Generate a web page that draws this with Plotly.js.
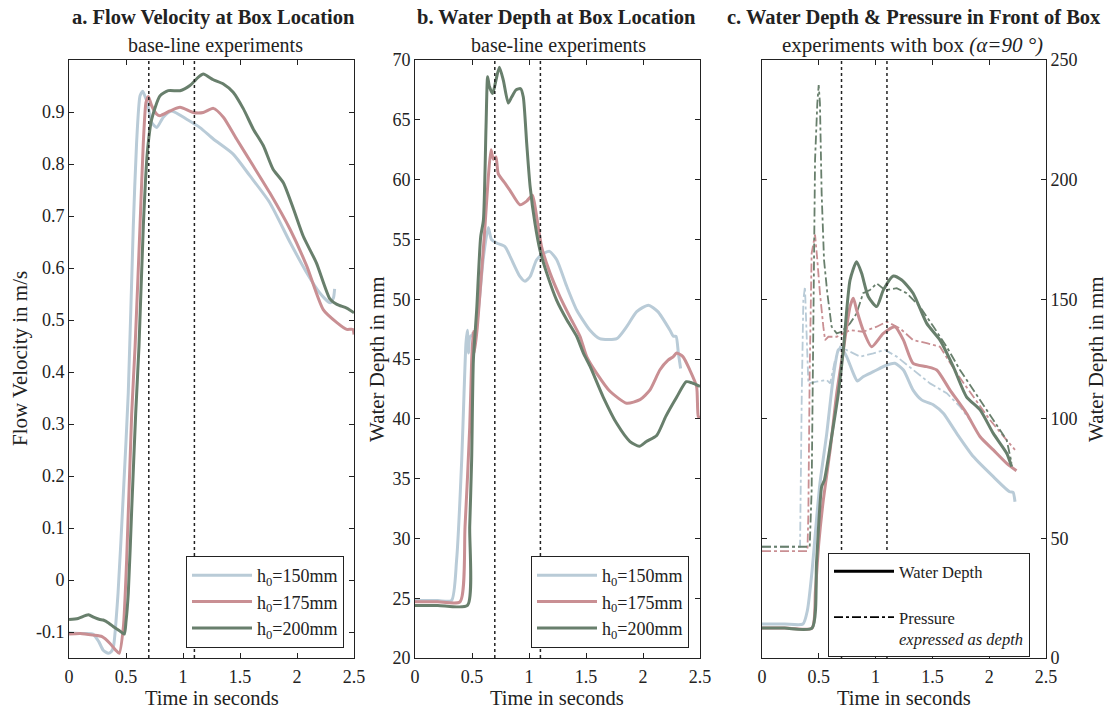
<!DOCTYPE html>
<html>
<head>
<meta charset="utf-8">
<script src="https://cdn.plot.ly/plotly-3.0.1.min.js"></script>
<style>html,body{margin:0;padding:0;background:#fff;}#chart{width:1107px;height:710px;}</style>
</head>
<body>
<div id="chart"></div>
<script>
// ---------- DATA ----------
const seriesNames = ["h<sub>0</sub>=150mm", "h<sub>0</sub>=175mm", "h<sub>0</sub>=200mm"];
const xTickVals = [0, 0.5, 1, 1.5, 2, 2.5];
const xTickText = ["0", "0.5", "1", "1.5", "2", "2.5"];
const velTickVals = [-0.1, 0, 0.1, 0.2, 0.3, 0.4, 0.5, 0.6, 0.7, 0.8, 0.9];
const velTickText = ["-0.1", "0", "0.1", "0.2", "0.3", "0.4", "0.5", "0.6", "0.7", "0.8", "0.9"];
const markerTimes = [0.7, 1.1];

// a. Flow velocity (m/s)
const tVel150 = [0, 0.1, 0.21, 0.26, 0.30, 0.345, 0.37, 0.39, 0.43, 0.477, 0.52, 0.564, 0.593, 0.623, 0.646, 0.667, 0.687, 0.725, 0.769, 0.827, 0.90, 1.032, 1.149, 1.266, 1.44, 1.588, 1.76, 1.94, 2.085, 2.20, 2.29, 2.32, 2.33];
const vel150 = [-0.102, -0.103, -0.104, -0.118, -0.135, -0.141, -0.138, -0.128, -0.026, 0.167, 0.36, 0.681, 0.841, 0.931, 0.940, 0.930, 0.918, 0.880, 0.870, 0.890, 0.902, 0.886, 0.870, 0.848, 0.819, 0.777, 0.726, 0.649, 0.591, 0.552, 0.533, 0.543, 0.56];
const tVel175 = [0, 0.1, 0.21, 0.29, 0.36, 0.41, 0.44, 0.477, 0.506, 0.55, 0.58, 0.623, 0.652, 0.675, 0.696, 0.725, 0.769, 0.798, 0.886, 0.974, 1.09, 1.178, 1.266, 1.354, 1.47, 1.617, 1.76, 1.94, 2.085, 2.23, 2.35, 2.436, 2.49, 2.5];
const vel175 = [-0.104, -0.103, -0.106, -0.109, -0.122, -0.135, -0.141, -0.09, 0.04, 0.32, 0.45, 0.681, 0.841, 0.918, 0.930, 0.912, 0.896, 0.893, 0.902, 0.909, 0.899, 0.899, 0.907, 0.890, 0.848, 0.796, 0.745, 0.674, 0.604, 0.520, 0.495, 0.482, 0.482, 0.472];
const tVel200 = [0, 0.08, 0.17, 0.22, 0.27, 0.30, 0.35, 0.39, 0.44, 0.485, 0.50, 0.52, 0.55, 0.585, 0.614, 0.652, 0.687, 0.725, 0.798, 0.871, 0.974, 1.061, 1.135, 1.178, 1.266, 1.354, 1.44, 1.53, 1.617, 1.705, 1.79, 1.88, 1.97, 2.055, 2.17, 2.29, 2.35, 2.436, 2.5];
const vel200 = [-0.076, -0.074, -0.067, -0.072, -0.076, -0.077, -0.083, -0.09, -0.097, -0.104, -0.08, -0.026, 0.135, 0.32, 0.45, 0.681, 0.822, 0.886, 0.931, 0.941, 0.941, 0.951, 0.967, 0.973, 0.962, 0.954, 0.938, 0.906, 0.867, 0.835, 0.790, 0.764, 0.713, 0.661, 0.610, 0.540, 0.530, 0.523, 0.514];

// b. Water depth at box location (mm)
const tDep150 = [0, 0.2, 0.32, 0.365, 0.41, 0.43, 0.447, 0.459, 0.47, 0.48, 0.50, 0.53, 0.56, 0.60, 0.643, 0.67, 0.716, 0.789, 0.833, 0.92, 0.965, 1.01, 1.067, 1.125, 1.18, 1.243, 1.33, 1.418, 1.535, 1.62, 1.77, 1.857, 1.945, 2.047, 2.13, 2.237, 2.266, 2.29, 2.31, 2.33];
const dep150 = [24.8, 24.8, 24.8, 28.2, 36.6, 42.1, 46.3, 47.4, 45.5, 46.8, 47.0, 47.3, 49.5, 53.5, 56.0, 55.0, 54.7, 54.4, 53.6, 51.9, 51.5, 51.9, 53.3, 53.8, 54.0, 53.3, 51.1, 49.1, 47.4, 46.7, 46.7, 47.7, 48.96, 49.5, 48.96, 47.4, 46.9, 46.9, 45.5, 44.2];
const tDep175 = [0, 0.2, 0.395, 0.439, 0.48, 0.497, 0.51, 0.52, 0.545, 0.57, 0.614, 0.643, 0.667, 0.687, 0.71, 0.73, 0.789, 0.833, 0.92, 0.98, 1.03, 1.067, 1.11, 1.184, 1.272, 1.36, 1.447, 1.506, 1.594, 1.71, 1.857, 1.974, 2.06, 2.149, 2.22, 2.266, 2.295, 2.35, 2.41, 2.47, 2.485, 2.5];
const dep175 = [24.7, 24.7, 24.7, 31.0, 39.3, 44.9, 47.3, 45.5, 47.5, 50.5, 56.1, 60.2, 62.5, 61.7, 61.9, 60.5, 59.7, 59.1, 57.9, 58.2, 58.7, 56.9, 54.4, 52.2, 50.2, 48.5, 46.9, 45.2, 43.8, 42.3, 41.3, 41.6, 42.4, 44.1, 44.9, 45.2, 45.5, 45.2, 44.1, 42.7, 40.2, 40.1];
const tDep200 = [0, 0.2, 0.46, 0.48, 0.497, 0.512, 0.541, 0.576, 0.60, 0.623, 0.637, 0.652, 0.681, 0.71, 0.74, 0.775, 0.818, 0.848, 0.886, 0.927, 0.95, 0.98, 1.01, 1.053, 1.096, 1.155, 1.243, 1.33, 1.418, 1.477, 1.535, 1.652, 1.77, 1.886, 1.968, 2.03, 2.12, 2.2, 2.295, 2.38, 2.43, 2.5];
const dep200 = [24.4, 24.4, 24.4, 31.0, 36.6, 44.9, 49.1, 55.2, 56.6, 64.4, 68.6, 67.8, 67.2, 68.3, 69.4, 68.3, 66.4, 66.9, 67.5, 67.6, 66.9, 63.0, 59.4, 56.3, 54.1, 52.2, 49.9, 48.3, 46.9, 45.5, 44.4, 41.8, 39.6, 38.1, 37.7, 38.1, 38.6, 40.2, 41.8, 43.1, 43.0, 42.7];

// c. Water depth in front of box (solid) and pressure expressed as depth (dash-dot)
const tBoxDep150 = [0, 0.2, 0.36, 0.40, 0.44, 0.48, 0.51, 0.57, 0.628, 0.672, 0.70, 0.745, 0.804, 0.84, 0.89, 0.98, 1.10, 1.17, 1.245, 1.33, 1.405, 1.51, 1.596, 1.714, 1.86, 2.036, 2.18, 2.21, 2.227];
const boxDep150 = [14.2, 14.2, 14.2, 20, 36, 58, 73.0, 93.9, 117.6, 128.8, 129.5, 126.0, 119.0, 115.8, 117.6, 119.7, 122.5, 123.2, 120.4, 112.0, 107.9, 105.8, 102.3, 93.9, 84.2, 75.8, 69.5, 69.3, 65.3];
const tBoxDep175 = [0, 0.2, 0.44, 0.47, 0.50, 0.54, 0.6, 0.658, 0.716, 0.775, 0.804, 0.833, 0.89, 0.965, 1.068, 1.17, 1.245, 1.33, 1.45, 1.538, 1.655, 1.80, 1.92, 2.036, 2.154, 2.24];
const boxDep175 = [12.5, 12.5, 12.5, 28, 48, 66.1, 87.0, 110.7, 128.8, 146.9, 150.4, 145.5, 137.1, 130.1, 135.7, 138.5, 132.9, 123.2, 121.8, 120.4, 112.0, 102.3, 92.5, 87.0, 81.4, 78.3];
const tBoxDep200 = [0, 0.2, 0.44, 0.48, 0.525, 0.55, 0.613, 0.672, 0.716, 0.775, 0.833, 0.877, 0.936, 1.01, 1.068, 1.156, 1.23, 1.33, 1.45, 1.567, 1.684, 1.80, 1.92, 2.036, 2.154, 2.198];
const boxDep200 = [12.5, 12.5, 12.5, 40, 71.6, 74.5, 92.5, 110.7, 128.8, 158.0, 165.7, 160.8, 151.0, 146.9, 153.8, 159.7, 158.0, 152.5, 139.9, 132.9, 121.8, 109.2, 103.7, 93.9, 85.6, 80.0];
const tPres150 = [0, 0.2, 0.335, 0.35, 0.364, 0.378, 0.39, 0.408, 0.48, 0.57, 0.60, 0.643, 0.687, 0.745, 0.863, 0.98, 1.083, 1.186, 1.33, 1.479, 1.626, 1.743, 1.83];
const pres150 = [46.5, 46.5, 46.5, 110, 149.7, 155.2, 140, 114.8, 115.5, 116.2, 114.8, 124.6, 130.1, 128.8, 126.0, 127.4, 128.8, 126.0, 120.4, 114.8, 110.7, 105.1, 99.5];
const tPres175 = [0, 0.2, 0.40, 0.408, 0.42, 0.437, 0.467, 0.487, 0.51, 0.54, 0.555, 0.584, 0.658, 0.775, 0.89, 1.01, 1.098, 1.215, 1.33, 1.45, 1.567, 1.714, 1.86, 2.007, 2.154, 2.227];
const pres175 = [44.7, 44.7, 44.7, 60, 120, 169.2, 177, 166.4, 152.5, 138.5, 132.9, 134.3, 134.3, 137.1, 136.4, 138.5, 140.6, 137.8, 132.9, 131.6, 130.1, 119.0, 109.2, 99.5, 91.1, 87.0];
const tPres200 = [0, 0.2, 0.42, 0.437, 0.452, 0.467, 0.487, 0.499, 0.51, 0.525, 0.546, 0.575, 0.613, 0.658, 0.70, 0.775, 0.833, 0.89, 0.95, 1.01, 1.083, 1.186, 1.274, 1.39, 1.51, 1.626, 1.743, 1.86, 1.978, 2.095, 2.154, 2.198];
const pres200 = [46.5, 46.5, 46.5, 70, 150, 208.2, 231.9, 239.5, 231.9, 194.3, 166.4, 152.5, 138.5, 135.7, 136.4, 139.9, 144.1, 152.5, 153.8, 156.6, 153.8, 154.6, 152.5, 146.9, 138.5, 130.1, 120.4, 112.0, 103.7, 95.3, 91.1, 81.4];

// ---------- STYLE ----------
const W = 1107, H = 710;
const px = v => v / W, py = v => 1 - v / H;
const colors = ["#b9cbd7", "#c98f93", "#687f6c"];
const FONT = "Liberation Serif, Times New Roman, serif";

const traces = [];
const velT = [tVel150, tVel175, tVel200], velV = [vel150, vel175, vel200];
const depT = [tDep150, tDep175, tDep200], depV = [dep150, dep175, dep200];
const bdT = [tBoxDep150, tBoxDep175, tBoxDep200], bdV = [boxDep150, boxDep175, boxDep200];
const prT = [tPres150, tPres175, tPres200], prV = [pres150, pres175, pres200];

for (let i = 0; i < 3; i++) {
  traces.push({x: velT[i], y: velV[i], xaxis: "x", yaxis: "y", mode: "lines", name: seriesNames[i],
    line: {color: colors[i], width: 3, shape: "spline", smoothing: 0.6}, legend: "legend", showlegend: true});
}
for (let i = 0; i < 3; i++) {
  traces.push({x: depT[i], y: depV[i], xaxis: "x2", yaxis: "y2", mode: "lines", name: seriesNames[i],
    line: {color: colors[i], width: 3, shape: "spline", smoothing: 0.6}, legend: "legend2", showlegend: true});
}
for (let i = 0; i < 3; i++) {
  traces.push({x: prT[i], y: prV[i], xaxis: "x3", yaxis: "y3", mode: "lines", showlegend: false,
    line: {color: colors[i], width: 1.8, dash: "dashdot"}});
}
for (let i = 0; i < 3; i++) {
  traces.push({x: bdT[i], y: bdV[i], xaxis: "x3", yaxis: "y3", mode: "lines", showlegend: false,
    line: {color: colors[i], width: 3, shape: "spline", smoothing: 0.6}});
}
// legend keys for panel c
traces.push({x: [-1, -0.9], y: [-10, -10], xaxis: "x3", yaxis: "y3", mode: "lines", name: "Water Depth<br> ",
  line: {color: "#000", width: 3}, legend: "legend3", showlegend: true});
traces.push({x: [-1, -0.9], y: [-10, -10], xaxis: "x3", yaxis: "y3", mode: "lines", name: "Pressure<br><i>expressed as depth</i>",
  line: {color: "#000", width: 1.8, dash: "dashdot"}, legend: "legend3", showlegend: true});

const axBase = {
  showline: true, linecolor: "#222", linewidth: 1, mirror: "ticks", ticks: "inside", ticklen: 5,
  tickcolor: "#222", showgrid: false, zeroline: false, tickfont: {family: FONT, size: 18, color: "#222"}
};
const xAx = (dom, anchor) => Object.assign({}, axBase, {domain: dom, anchor: anchor, range: [0, 2.5],
  tickmode: "array", tickvals: xTickVals, ticktext: xTickText, ticklabelstandoff: 2});

const yDom = [1 - 658 / H, 1 - 60 / H];

const shapes = [];
[["x", "y"], ["x2", "y2"], ["x3", "y3"]].forEach(([xa, ya]) => {
  markerTimes.forEach(t => shapes.push({type: "line", xref: xa, yref: ya + " domain", x0: t, x1: t, y0: 0, y1: 1,
    line: {color: "#222", width: 1.5, dash: "dot"}}));
});

const ann = (x, y, text, size, opts) => Object.assign({xref: "paper", yref: "paper", x: px(x), y: py(y), text: text,
  showarrow: false, font: {family: FONT, size: size, color: "#222"}, xanchor: "center", yanchor: "middle"}, opts || {});

const annotations = [
  ann(213, 18, "<b>a. Flow Velocity at Box Location</b>", 20.5),
  ann(215, 45, "base-line experiments", 20),
  ann(556, 18, "<b>b. Water Depth at Box Location</b>", 20.5),
  ann(558, 45, "base-line experiments", 20),
  ann(914, 18, "<b>c. Water Depth &amp; Pressure in Front of Box</b>", 20.5),
  ann(912, 45, "experiments with box <i>(α=90 °)</i>", 21),
  ann(20, 359, "Flow Velocity in m/s", 21, {textangle: -90}),
  ann(377, 359, "Water Depth in mm", 21, {textangle: -90}),
  ann(1096, 359, "Water Depth in mm", 21, {textangle: -90}),
  ann(212, 698, "Time in seconds", 20.5),
  ann(557, 698, "Time in seconds", 20.5),
  ann(904, 698, "Time in seconds", 20.5)
];

const legBase = {bordercolor: "#222", borderwidth: 1, bgcolor: "#fff", xanchor: "left", yanchor: "top",
  font: {family: FONT, size: 18, color: "#222"}, itemwidth: 60, tracegroupgap: 0};

const layout = {
  width: W, height: H, margin: {l: 0, r: 0, t: 0, b: 0}, paper_bgcolor: "#fff", plot_bgcolor: "#fff",
  font: {family: FONT, size: 18, color: "#222"},
  xaxis: xAx([69 / W, 354 / W], "y"),
  yaxis: Object.assign({}, axBase, {domain: yDom, anchor: "x", range: [-0.15, 1.0], tickmode: "array",
    tickvals: velTickVals, ticktext: velTickText}),
  xaxis2: xAx([415 / W, 700 / W], "y2"),
  yaxis2: Object.assign({}, axBase, {domain: yDom, anchor: "x2", range: [20, 70], dtick: 5, tick0: 20}),
  xaxis3: xAx([762 / W, 1046 / W], "y3"),
  yaxis3: Object.assign({}, axBase, {domain: yDom, anchor: "x3", side: "right", range: [0, 250], dtick: 50, tick0: 0}),
  legend: Object.assign({}, legBase, {x: px(186), y: py(556)}),
  legend2: Object.assign({}, legBase, {x: px(531), y: py(556)}),
  legend3: Object.assign({}, legBase, {x: px(828), y: py(553), valign: "top",
    font: {family: FONT, size: 16.5, color: "#222"}}),
  shapes: shapes,
  annotations: annotations
};

Plotly.newPlot("chart", traces, layout, {displayModeBar: false, staticPlot: true});
</script>
</body>
</html>
